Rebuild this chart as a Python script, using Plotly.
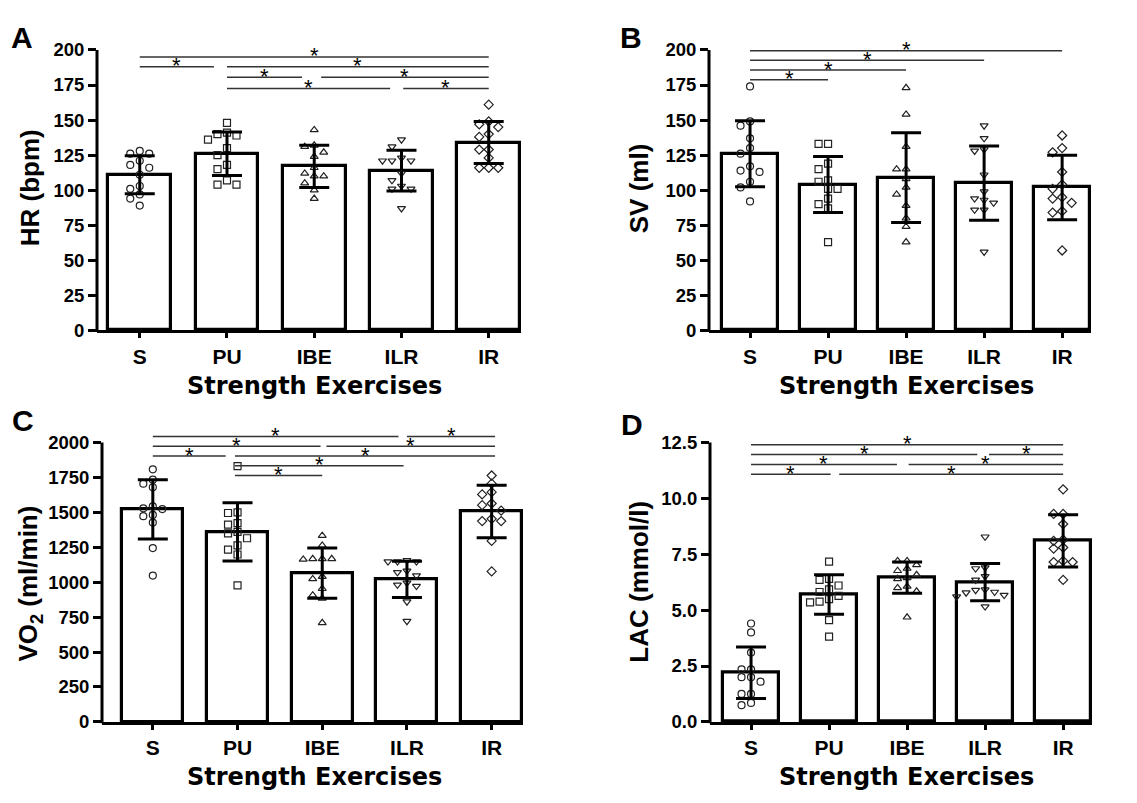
import plotly.graph_objects as go

W, H = 1137, 803
categories = ["S", "PU", "IBE", "ILR", "IR"]
symbols = ["circle-open", "square-open", "triangle-up-open", "triangle-down-open", "diamond-open"]

# ---------------- Panel A: HR (bpm) ----------------
hr_mean = [111, 126, 117, 114, 134]
hr_sd = [13.5, 15.5, 15, 14.5, 15]
hr_S = [128, 126, 126, 121, 118, 116, 111, 101, 103, 97, 94, 89]
hr_PU = [148, 141, 140, 139, 136, 130, 125, 118, 115, 107, 104, 104]
hr_IBE = [143, 132, 131, 127, 124, 116, 112, 110, 110, 105, 100, 94]
hr_ILR = [136, 131, 123, 121, 121, 121, 112, 107, 101, 101, 103, 87]
hr_IR = [161, 149, 147, 145, 140, 138, 129, 129, 123, 116, 116, 116]
hr_sig = [(0, 4, 195), (0, 0.85, 188), (1, 4, 188), (1, 1.86, 180.5),
          (2.08, 4, 180.5), (1, 2.87, 172.5), (3.02, 4, 172.5)]

# ---------------- Panel B: SV (ml) ----------------
sv_mean = [126, 104, 109, 105, 102]
sv_sd = [23.5, 20, 32, 26.5, 23]
sv_S = [174, 149, 146, 137, 130, 126, 117, 113, 114, 106, 102, 92]
sv_PU = [133, 133, 119, 115, 106, 107, 101, 101, 94, 90, 87, 63]
sv_IBE = [173, 154, 131, 115, 115, 108, 102, 97, 89, 80, 74, 63]
sv_ILR = [146, 137, 129, 128, 111, 99, 93, 94, 91, 86, 86, 56]
sv_IR = [139, 130, 127, 113, 104, 101, 95, 94, 91, 85, 84, 57]
sv_sig = [(0, 4, 199.5), (0, 3, 192.6), (0, 2, 185.7), (0, 1, 178.7)]

# ---------------- Panel C: VO2 (ml/min) ----------------
vo_mean = [1520, 1360, 1065, 1020, 1505]
vo_sd = [212, 208, 180, 130, 188]
vo_S = [1807, 1733, 1705, 1679, 1523, 1528, 1542, 1481, 1472, 1426, 1244, 1047]
vo_PU = [1830, 1500, 1495, 1423, 1412, 1349, 1314, 1263, 1233, 1198, 977, 1360]
vo_IBE = [1333, 1263, 1167, 1163, 1167, 1167, 1040, 1023, 953, 907, 884, 709]
vo_ILR = [1147, 1147, 1156, 1147, 1070, 1081, 995, 972, 981, 1047, 860, 721]
vo_IR = [1763, 1705, 1644, 1628, 1563, 1551, 1512, 1453, 1437, 1437, 1295, 1077]
vo_sig = [(0, 2.9, 2042), (3, 4.04, 2042), (0, 1.98, 1972), (2.05, 4.04, 1972),
          (0, 0.86, 1902), (0.97, 4.04, 1902), (0.97, 2.96, 1833), (0.97, 2.0, 1763)]

# ---------------- Panel D: LAC (mmol/l) ----------------
lac_mean = [2.2, 5.7, 6.45, 6.25, 8.1]
lac_sd = [1.15, 0.88, 0.7, 0.83, 1.17]
lac_S = [4.4, 4.0, 3.1, 2.35, 2.35, 2.0, 2.0, 1.8, 1.25, 1.25, 0.75, 0.85]
lac_PU = [7.17, 6.35, 6.4, 6.1, 5.93, 5.81, 5.64, 5.49, 5.35, 5.38, 4.55, 3.81]
lac_IBE = [7.2, 7.2, 7.02, 6.86, 6.76, 6.58, 6.44, 6.4, 5.99, 6.06, 5.84, 4.68]
lac_ILR = [8.28, 6.86, 6.51, 6.35, 5.89, 5.78, 5.81, 5.92, 5.6, 5.67, 5.16, 6.9]
lac_IR = [10.4, 9.3, 9.3, 8.85, 8.15, 8.1, 7.8, 7.75, 7.2, 7.15, 7.15, 6.35]
lac_sig = [(0, 4, 12.4), (0, 2.9, 11.96), (3.05, 4, 11.96), (0, 1.87, 11.51),
           (2.02, 4, 11.51), (0, 1.02, 11.08), (1.13, 4, 11.08)]

FONT_W = "DejaVu Sans, Liberation Sans, Arial, sans-serif"   # wide bold (x titles)
FONT_A = "Liberation Sans, Arial, sans-serif"                # Arial-like

panels = [
    dict(key="", letter="A", title="HR (bpm)", mean=hr_mean, sd=hr_sd,
         pts=[hr_S, hr_PU, hr_IBE, hr_ILR, hr_IR], sig=hr_sig,
         px=(97, 521), py=(40, 328), yr=(0, 200), axis_top=200, dtick=25, fmt="d",
         xr=(-0.49, 4.37), ytitle=(30, 182), xtitle=(314, 385),
         letter_pos=(22, 27)),
    dict(key="2", letter="B", title="SV (ml)", mean=sv_mean, sd=sv_sd,
         pts=[sv_S, sv_PU, sv_IBE, sv_ILR, sv_IR], sig=sv_sig,
         px=(709, 1091), py=(40, 328), yr=(0, 200), axis_top=200, dtick=25, fmt="d",
         xr=(-0.526, 4.37), ytitle=(639, 182), xtitle=(906, 385),
         letter_pos=(631, 27)),
    dict(key="3", letter="C", title="VO<sub>2</sub> (ml/min)", mean=vo_mean, sd=vo_sd,
         pts=[vo_S, vo_PU, vo_IBE, vo_ILR, vo_IR], sig=vo_sig,
         px=(102, 523), py=(431.5, 730), yr=(0, 2080), axis_top=2000, dtick=250, fmt="d",
         xr=(-0.6, 4.37), ytitle=(30, 588), xtitle=(314, 787),
         letter_pos=(23, 421)),
    dict(key="4", letter="D", title="LAC (mmol/l)", mean=lac_mean, sd=lac_sd,
         pts=[lac_S, lac_PU, lac_IBE, lac_ILR, lac_IR], sig=lac_sig,
         px=(710, 1092), py=(443, 730), yr=(0, 12.5), axis_top=12.5, dtick=2.5, fmt=".1f",
         xr=(-0.526, 4.37), ytitle=(639, 586), xtitle=(906, 787),
         letter_pos=(632, 425)),
]


def px2paper_x(v):
    return v / W


def px2paper_y(v):
    return 1 - v / H


def swarm(values, x_unit_px, y_unit_px, step_px=9.5, min_d=7.5):
    """Simple deterministic beeswarm offsets (in x units)."""
    placed = []
    offs = [0.0] * len(values)
    order = sorted(range(len(values)), key=lambda i: -values[i])
    cands = [0, -1, 1, -2, 2, -3, 3, -4, 4]
    for i in order:
        yp = values[i] * y_unit_px
        for c in cands:
            xp = c * step_px
            ok = True
            for (xq, yq) in placed:
                if abs(xq - xp) < min_d and abs(yq - yp) < min_d:
                    ok = False
                    break
            if ok:
                placed.append((xp, yp))
                offs[i] = xp / x_unit_px
                break
    return offs


fig = go.Figure()
annotations = []
shapes = []

for p in panels:
    k = p["key"]
    xa = "x" + k
    ya = "y" + k
    x_unit_px = (p["px"][1] - p["px"][0]) / (p["xr"][1] - p["xr"][0])
    y_unit_px = (p["py"][1] - p["py"][0]) / (p["yr"][1] - p["yr"][0])
    xs = list(range(len(categories)))

    fig.add_trace(go.Bar(x=xs, y=p["mean"], width=0.72, xaxis=xa, yaxis=ya,
                         marker=dict(color="white", line=dict(color="black", width=3.2)),
                         showlegend=False, hoverinfo="skip"))
    for i, vals in enumerate(p["pts"]):
        offs = swarm(vals, x_unit_px, y_unit_px)
        fig.add_trace(go.Scatter(x=[i + o for o in offs], y=vals, mode="markers",
                                 xaxis=xa, yaxis=ya, showlegend=False,
                                 marker=dict(symbol=symbols[i], size=7, color="#222",
                                             line=dict(width=1.2, color="#222"))))
    fig.add_trace(go.Scatter(x=xs, y=p["mean"], mode="markers", xaxis=xa, yaxis=ya,
                             showlegend=False,
                             marker=dict(size=1, color="rgba(0,0,0,0)"),
                             error_y=dict(type="data", array=p["sd"], visible=True,
                                          color="black", thickness=3, width=15)))

    layout_x = dict(domain=[px2paper_x(p["px"][0]), px2paper_x(p["px"][1])],
                    range=list(p["xr"]), tickmode="array", tickvals=xs, ticktext=categories,
                    showline=True, linecolor="black", linewidth=3, ticks="outside",
                    ticklen=5, tickwidth=2.5, tickcolor="black", showgrid=False,
                    zeroline=False, anchor=ya,
                    tickfont=dict(family=FONT_A, size=21, color="black", weight="bold"))
    tv = []
    v = 0
    while v <= p["axis_top"] + 1e-9:
        tv.append(v)
        v += p["dtick"]
    layout_y = dict(domain=[px2paper_y(p["py"][1]), px2paper_y(p["py"][0])],
                    range=list(p["yr"]), tickmode="array", tickvals=tv,
                    tickformat=p["fmt"], showline=False, ticks="outside",
                    ticklen=8, tickwidth=2.5, tickcolor="black", showgrid=False,
                    zeroline=False, anchor=xa,
                    tickfont=dict(family=FONT_A, size=18.5, color="black", weight="bold"))
    fig.update_layout(**{("xaxis" + k): layout_x, ("yaxis" + k): layout_y})

    # y axis line drawn as a paper shape up to the top tick
    top_px = p["py"][1] - p["axis_top"] * y_unit_px
    shapes.append(dict(type="line", xref="paper", yref="paper",
                       x0=px2paper_x(p["px"][0]), x1=px2paper_x(p["px"][0]),
                       y0=px2paper_y(p["py"][1] + 1.5), y1=px2paper_y(top_px),
                       line=dict(color="black", width=3)))

    # significance lines + stars
    for (a, b, lvl) in p["sig"]:
        shapes.append(dict(type="line", xref=xa, yref=ya, x0=a, x1=b, y0=lvl, y1=lvl,
                           line=dict(color="#333", width=1.5)))
        annotations.append(dict(x=(a + b) / 2, y=lvl, xref=xa, yref=ya, text="*",
                                showarrow=False, yanchor="middle", yshift=1,
                                font=dict(family=FONT_A, size=22, color="black")))

    # axis titles, panel letters
    annotations.append(dict(x=px2paper_x(p["ytitle"][0]), y=px2paper_y(p["ytitle"][1]),
                            xref="paper", yref="paper", text=p["title"], textangle=-90,
                            showarrow=False, xanchor="center", yanchor="middle",
                            font=dict(family=FONT_A, size=26, color="black", weight="bold")))
    annotations.append(dict(x=px2paper_x(p["xtitle"][0]), y=px2paper_y(p["xtitle"][1]),
                            xref="paper", yref="paper", text="Strength Exercises",
                            showarrow=False, xanchor="center", yanchor="middle",
                            font=dict(family=FONT_W, size=24, color="black", weight="bold")))
    annotations.append(dict(x=px2paper_x(p["letter_pos"][0]), y=px2paper_y(p["letter_pos"][1]),
                            xref="paper", yref="paper", text=p["letter"],
                            showarrow=False, xanchor="center", yanchor="middle",
                            font=dict(family=FONT_A, size=30, color="black", weight="bold")))

fig.update_layout(width=W, height=H, margin=dict(l=0, r=0, t=0, b=0),
                  paper_bgcolor="white", plot_bgcolor="white",
                  bargap=0, showlegend=False,
                  annotations=annotations, shapes=shapes)

fig.write_html("out.html")
